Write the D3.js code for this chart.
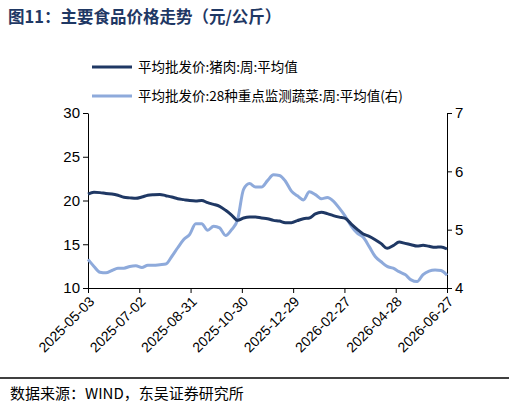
<!DOCTYPE html><html><head><meta charset="utf-8"><script src="https://d3js.org/d3.v7.min.js"></script>
<style>body{margin:0;background:#fff}text{font-family:"Noto Sans CJK SC",sans-serif}</style></head><body>
<svg id="c" width="509" height="413"></svg>
<script>
const startDate="2025-05-03";
const pork=[20.74,20.93,20.9,20.8,20.75,20.6,20.36,20.3,20.25,20.4,20.6,20.67,20.7,20.55,20.4,20.2,20.1,20.0,19.95,20.0,19.75,19.56,19.33,18.88,18.34,17.73,18.0,18.11,18.11,18.0,17.92,17.73,17.65,17.47,17.47,17.7,17.92,18.0,18.46,18.65,18.5,18.27,18.1,17.96,17.3,16.7,16.17,15.9,15.52,15.07,14.53,14.84,15.25,15.1,14.95,14.8,14.88,14.76,14.65,14.7,14.46];
const veg=[4.49,4.37,4.27,4.26,4.3,4.34,4.34,4.37,4.38,4.35,4.39,4.39,4.4,4.41,4.54,4.69,4.83,4.92,5.1,5.1,4.99,5.06,5.03,4.9,5.0,5.17,5.69,5.79,5.73,5.73,5.84,5.94,5.93,5.83,5.66,5.58,5.51,5.65,5.6,5.53,5.55,5.49,5.37,5.23,5.06,4.94,4.87,4.71,4.54,4.45,4.37,4.34,4.28,4.23,4.14,4.11,4.23,4.29,4.31,4.3,4.22];
const leftTicks=[10,15,20,25,30], rightTicks=[4,5,6,7];
const xTickLabels=["2025-05-03","2025-07-02","2025-08-31","2025-10-30","2025-12-29","2026-02-27","2026-04-28","2026-06-27"];
const seriesNames=["平均批发价:猪肉:周:平均值","平均批发价:28种重点监测蔬菜:周:平均值(右)"];
const parse=d3.timeParse("%Y-%m-%d"), fmt=d3.timeFormat("%Y-%m-%d");
const t0=parse(startDate);
const dates=pork.map((_,i)=>d3.timeDay.offset(t0,7*i));
const svg=d3.select("#c");
const L=88,R=447,T=113,B=288;
const x=d3.scaleTime().domain([t0,parse(xTickLabels[7])]).range([L,R]);
const yl=d3.scaleLinear().domain([10,30]).range([B,T]);
const yr=d3.scaleLinear().domain([4,7]).range([B,T]);
svg.append("text").attr("x",8).attr("y",23).attr("font-size",16.5).attr("font-weight","bold").attr("fill","#1f3864").text("图11：主要食品价格走势（元/公斤）");
const lg=[[pork,"#1f3864"],[veg,"#8eaadb"]];
seriesNames.forEach((n,i)=>{const yy=67+29*i;
svg.append("line").attr("x1",92).attr("x2",132).attr("y1",yy).attr("y2",yy).attr("stroke",lg[i][1]).attr("stroke-width",3);
svg.append("text").attr("x",138).attr("y",yy+5).attr("font-size",13.5).attr("fill","#000").text(n);});
const ax=svg.append("g").attr("transform",`translate(0,${B})`).call(d3.axisBottom(x).tickValues(xTickLabels.map(parse)).tickFormat(fmt).tickSize(5).tickSizeOuter(0));
ax.selectAll("text").attr("font-size",14).attr("fill","#000").attr("text-anchor","end").attr("transform","rotate(-45)").attr("dx","-0.4em").attr("dy","0.5em").style("font-family","Liberation Sans, Arial");
const al=svg.append("g").attr("transform",`translate(${L},0)`).call(d3.axisLeft(yl).tickValues(leftTicks).tickFormat(d3.format("d")).tickSize(5).tickSizeOuter(0));
const ar=svg.append("g").attr("transform",`translate(${R},0)`).call(d3.axisRight(yr).tickValues(rightTicks).tickFormat(d3.format("d")).tickSize(5).tickSizeOuter(0));
[al,ar].forEach(a=>a.selectAll("text").attr("font-size",15).attr("fill","#000").style("font-family","Liberation Sans, Arial"));
svg.selectAll(".domain,.tick line").attr("stroke","#000");
svg.append("path").datum(veg).attr("fill","none").attr("stroke","#8eaadb").attr("stroke-width",3).attr("stroke-linejoin","round")
 .attr("d",d3.line().x((d,i)=>x(dates[i])).y(d=>yr(d)).curve(d3.curveMonotoneX));
svg.append("path").datum(pork).attr("fill","none").attr("stroke","#1f3864").attr("stroke-width",3).attr("stroke-linejoin","round")
 .attr("d",d3.line().x((d,i)=>x(dates[i])).y(d=>yl(d)).curve(d3.curveMonotoneX));
svg.append("line").attr("x1",0).attr("x2",509).attr("y1",378).attr("y2",378).attr("stroke","#000").attr("stroke-width",1.5);
svg.append("text").attr("x",10).attr("y",399).attr("font-size",15).attr("fill","#000").text("数据来源：WIND，东吴证券研究所");
</script></body></html>
